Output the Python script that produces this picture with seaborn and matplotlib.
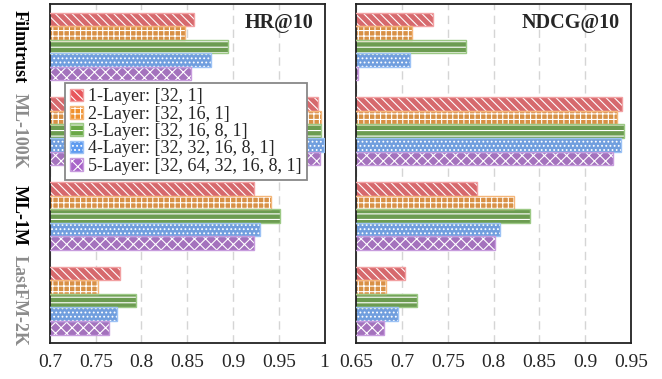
import pandas as pd
import matplotlib.pyplot as plt
import seaborn as sns
from matplotlib.patches import Rectangle, Patch

sns.set_style('white')
plt.rcParams['font.family'] = ['Liberation Serif', 'DejaVu Serif']
plt.rcParams['hatch.linewidth'] = 0.8

# ---- data ----
datasets = ['Filmtrust', 'ML-100K', 'ML-1M', 'LastFM-2K']
layers = ['1-Layer: [32, 1]', '2-Layer: [32, 16, 1]', '3-Layer: [32, 16, 8, 1]',
          '4-Layer: [32, 32, 16, 8, 1]', '5-Layer: [32, 64, 32, 16, 8, 1]']

# one list per layer config, values follow `datasets`
hr_1 = [0.857, 0.993, 0.923, 0.777]
hr_2 = [0.848, 0.996, 0.942, 0.753]
hr_3 = [0.894, 0.996, 0.951, 0.794]
hr_4 = [0.876, 0.999, 0.930, 0.773]
hr_5 = [0.854, 0.995, 0.923, 0.764]

ndcg_1 = [0.734, 0.940, 0.782, 0.703]
ndcg_2 = [0.711, 0.935, 0.822, 0.682]
ndcg_3 = [0.770, 0.943, 0.840, 0.716]
ndcg_4 = [0.709, 0.939, 0.807, 0.696]
ndcg_5 = [0.652, 0.931, 0.801, 0.680]

hr_ticks = [0.7, 0.75, 0.8, 0.85, 0.9, 0.95, 1.0]
hr_ticklabels = ['0.7', '0.75', '0.8', '0.85', '0.9', '0.95', '1']
ndcg_ticks = [0.65, 0.7, 0.75, 0.8, 0.85, 0.9, 0.95]
ndcg_ticklabels = ['0.65', '0.7', '0.75', '0.8', '0.85', '0.9', '0.95']

# ---- styling ----
fills = ['#E8575C', '#F0902C', '#69A845', '#5E9BF0', '#A865C9']
borders = ['#F2A0A2', '#F5B77A', '#9CC985', '#9CC2F5', '#C79BDD']
hatches = ['\\\\\\\\', '+++', '---', '....', 'xxx']
label_colors = ['black', '#8c8c8c', 'black', '#8c8c8c']


def make_frame(series):
    rows = []
    for layer, vals in zip(layers, series):
        for d, v in zip(datasets, vals):
            rows.append({'dataset': d, 'layer': layer, 'value': v})
    return pd.DataFrame(rows)


hr_df = make_frame([hr_1, hr_2, hr_3, hr_4, hr_5])
ndcg_df = make_frame([ndcg_1, ndcg_2, ndcg_3, ndcg_4, ndcg_5])


def draw_panel(ax, df, ticks, ticklabels, title, show_labels):
    sns.barplot(data=df, y='dataset', x='value', hue='layer', order=datasets,
                hue_order=layers, palette=fills, orient='h', width=0.8,
                legend=False, ax=ax, zorder=2)
    # white hatch on coloured fill, then a lighter border on top
    for cont, hatch, border in zip(ax.containers, hatches, borders):
        for bar in cont.patches:
            bar.set_hatch(hatch)
            bar.set_edgecolor('white')
            bar.set_linewidth(0)
            ax.add_patch(Rectangle(bar.get_xy(), bar.get_width(), bar.get_height(),
                                   fill=False, edgecolor=border, lw=1.0, zorder=3))
    ax.set_xlim(ticks[0], ticks[-1])
    ax.set_xticks(ticks)
    ax.set_xticklabels(ticklabels, fontsize=14)
    ax.set_xlabel('')
    ax.set_ylabel('')
    ax.grid(axis='x', linestyle=(0, (6, 4)), color='#d5d5d5', linewidth=1)
    ax.grid(axis='y', visible=False)
    ax.set_axisbelow(True)
    ax.tick_params(axis='both', length=0)
    ax.tick_params(axis='x', pad=8)
    if show_labels:
        ax.set_yticks(range(len(datasets)))
        ax.set_yticklabels(datasets, rotation=-90, va='center', ha='center',
                           fontsize=13, fontweight='bold')
        for lab, c in zip(ax.get_yticklabels(), label_colors):
            lab.set_color(c)
        ax.tick_params(axis='y', pad=22)
    else:
        ax.set_yticklabels([])
    for sp in ax.spines.values():
        sp.set_visible(True)
        sp.set_color('#222222')
        sp.set_linewidth(1.3)
    ax.text(0.958, 0.944, title, transform=ax.transAxes, ha='right', va='center',
            fontsize=14.5, fontweight='bold', zorder=5)


fig, (ax1, ax2) = plt.subplots(1, 2, figsize=(6.62, 3.79), dpi=100)
fig.subplots_adjust(left=0.0755, right=0.953, bottom=0.095, top=0.989, wspace=0.116)

draw_panel(ax1, hr_df, hr_ticks, hr_ticklabels, 'HR@10', True)
draw_panel(ax2, ndcg_df, ndcg_ticks, ndcg_ticklabels, 'NDCG@10', False)

handles = [(Patch(facecolor=f, edgecolor='white', hatch=h, linewidth=0),
            Patch(fill=False, edgecolor=b, linewidth=1.0))
           for f, b, h in zip(fills, borders, hatches)]
leg = ax1.legend(handles, layers, loc='upper left', bbox_to_anchor=(0.055, 0.768),
                 borderaxespad=0, fontsize=13, handlelength=0.7, handleheight=0.7,
                 handletextpad=0.25, labelspacing=0.02, borderpad=0.3,
                 fancybox=False, framealpha=1)
leg.get_frame().set_edgecolor('#888888')
leg.get_frame().set_linewidth(1.3)
leg.set_zorder(10)

fig.savefig('out.png', dpi=100)
